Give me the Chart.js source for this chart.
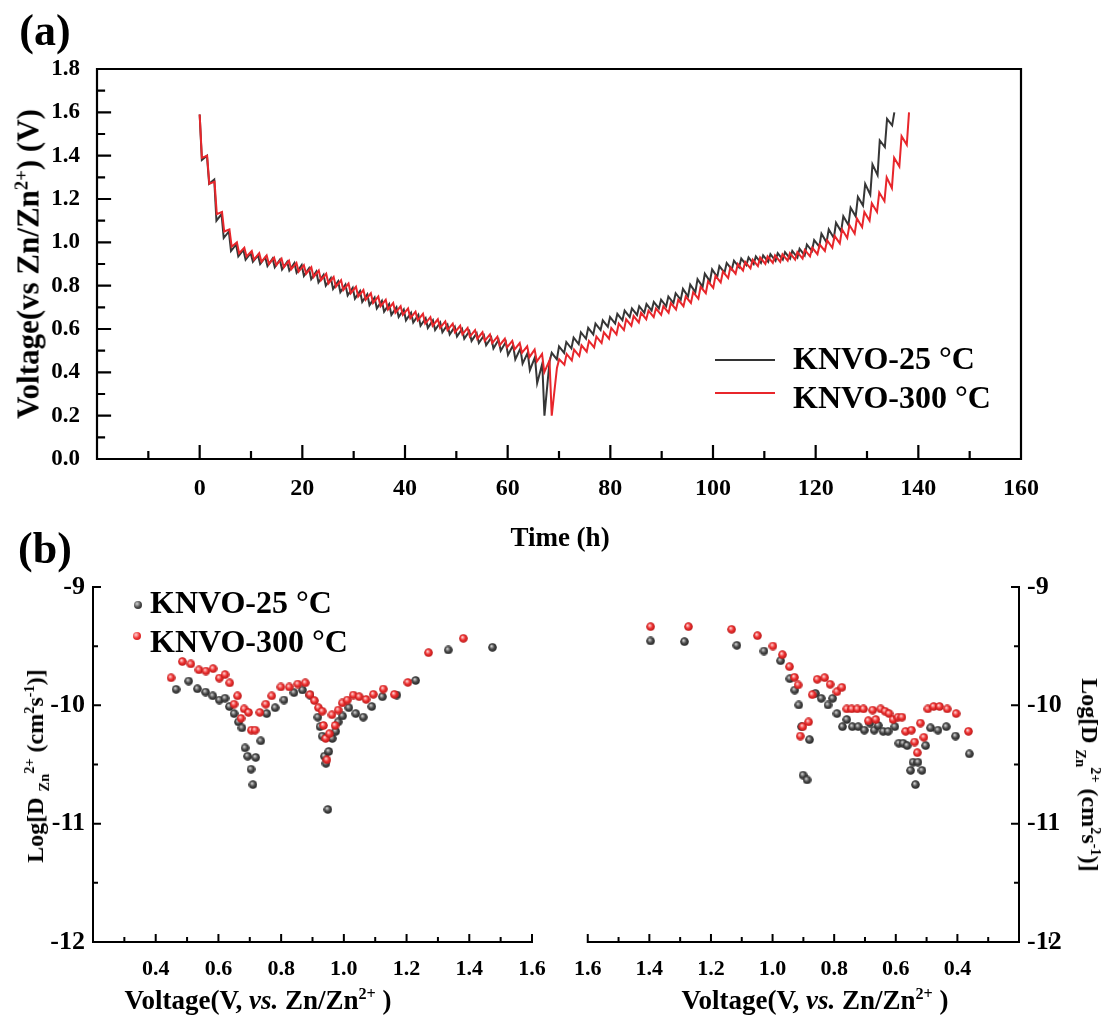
<!DOCTYPE html>
<html>
<head>
<meta charset="utf-8">
<script src="https://cdn.jsdelivr.net/npm/chart.js@4.4.1/dist/chart.umd.min.js"></script>
<style>
  body { margin: 0; background: #fff; }
  #page { position: relative; width: 1109px; height: 1017px; overflow: hidden; background: #fff; }
  canvas { position: absolute; }
  .t { position: absolute; white-space: nowrap; font-family: "Liberation Serif", "Times New Roman", serif;
       font-weight: bold; color: #000; line-height: 1; transform: translate(-50%, -50%); }
  .rot-l { transform: translate(-50%, -50%) rotate(-90deg); }
  .rot-r { transform: translate(-50%, -50%) rotate(90deg); }
  .t sup, .t sub { font-size: 0.6em; line-height: 0; }
  .leg { position: absolute; white-space: nowrap; font-family: "Liberation Serif", "Times New Roman", serif;
         font-weight: bold; font-size: 32px; line-height: 1; transform: translateY(-50%); }
  .legline { position: absolute; width: 60px; height: 0; }
  .ball { position: absolute; width: 8px; height: 8px; border-radius: 50%; transform: translate(-50%, -50%); }
</style>
</head>
<body>
<div id="page">
  <canvas id="gittChart" width="1109" height="560" style="left:0;top:0"></canvas>
  <canvas id="chargeChart" width="560" height="457" style="left:0;top:560px"></canvas>
  <canvas id="dischargeChart" width="549" height="457" style="left:560px;top:560px"></canvas>

  <div class="t" style="left:45px;top:31px;font-size:44px">(a)</div>
  <div class="t" style="left:45px;top:549px;font-size:44px">(b)</div>

  <div class="t" style="left:560px;top:537px;font-size:27px">Time (h)</div>
  <div class="t rot-l" style="left:28px;top:264px;font-size:31px">Voltage(vs Zn/Zn<sup>2+</sup>) (V)</div>

  <div class="legline" style="left:715px;top:359px;border-top:2px solid #333"></div>
  <div class="legline" style="left:715px;top:392px;border-top:2px solid #e8262b"></div>
  <div class="leg" style="left:793px;top:358px">KNVO-25 °C</div>
  <div class="leg" style="left:793px;top:397px">KNVO-300 °C</div>

  <div class="ball" style="left:138px;top:605px;background:radial-gradient(circle at 38% 35%, #d0d0d0 0, #4a4a4a 50%, #222 100%)"></div>
  <div class="ball" style="left:137px;top:636px;background:radial-gradient(circle at 38% 35%, #ffd0d0 0, #ee3030 50%, #b51818 100%)"></div>
  <div class="leg" style="left:150px;top:602px">KNVO-25 °C</div>
  <div class="leg" style="left:150px;top:641px">KNVO-300 °C</div>

  <div class="t" style="left:258px;top:1000px;font-size:27px">Voltage(V, <i>vs.</i> Zn/Zn<sup>2+</sup> )</div>
  <div class="t" style="left:815px;top:1000px;font-size:27px">Voltage(V, <i>vs.</i> Zn/Zn<sup>2+</sup> )</div>
  <div class="t rot-l" style="left:35px;top:766px;font-size:24px">Log[D <sub>Zn</sub><sup>2+</sup> (cm<sup>2</sup>s<sup>-1</sup>)]</div>
  <div class="t rot-r" style="left:1090px;top:775px;font-size:24px">Log[D <sub>Zn</sub><sup>2+</sup> (cm<sup>2</sup>s<sup>-1</sup>)]</div>
</div>

<script>
// ---- GITT profiles: voltage at the end of each pulse and after each rest ----
const startVoltage = 1.59;
const stepHours25 = 1.42;
const stepHours300 = 1.45;
const pulseFraction = 0.3;

const dis25Pulse = [1.38, 1.27, 1.10, 1.02, 0.96, 0.935, 0.92, 0.91, 0.90, 0.89, 0.885, 0.875, 0.87, 0.86, 0.845, 0.83,
  0.815, 0.80, 0.785, 0.77, 0.755, 0.74, 0.725, 0.71, 0.695, 0.68, 0.665, 0.655, 0.64, 0.63, 0.615, 0.605,
  0.595, 0.585, 0.575, 0.565, 0.555, 0.545, 0.535, 0.525, 0.51, 0.50, 0.48, 0.46, 0.44, 0.41, 0.35, 0.20];
const dis25Rest = [1.40, 1.29, 1.13, 1.05, 0.99, 0.965, 0.95, 0.94, 0.93, 0.925, 0.92, 0.91, 0.905, 0.895, 0.88, 0.865,
  0.85, 0.835, 0.82, 0.805, 0.79, 0.775, 0.76, 0.745, 0.73, 0.715, 0.70, 0.69, 0.675, 0.665, 0.65, 0.64,
  0.63, 0.62, 0.61, 0.60, 0.59, 0.58, 0.57, 0.56, 0.55, 0.54, 0.525, 0.51, 0.49, 0.47, 0.44, 0.45];
const chg25Pulse = [0.49, 0.52, 0.54, 0.56, 0.585, 0.605, 0.625, 0.64, 0.655, 0.67, 0.685, 0.695, 0.705, 0.715, 0.725, 0.735,
  0.75, 0.765, 0.785, 0.805, 0.83, 0.855, 0.875, 0.89, 0.905, 0.915, 0.925, 0.93, 0.935, 0.94, 0.945, 0.95,
  0.955, 0.96, 0.97, 0.99, 1.01, 1.04, 1.06, 1.09, 1.12, 1.16, 1.21, 1.27, 1.36, 1.47, 1.57, 1.60];
const chg25Rest = [0.46, 0.49, 0.51, 0.53, 0.555, 0.575, 0.595, 0.61, 0.625, 0.64, 0.655, 0.665, 0.675, 0.685, 0.695, 0.705,
  0.72, 0.735, 0.75, 0.77, 0.795, 0.82, 0.84, 0.86, 0.875, 0.885, 0.895, 0.90, 0.905, 0.91, 0.915, 0.92,
  0.925, 0.93, 0.94, 0.96, 0.98, 1.00, 1.02, 1.05, 1.08, 1.12, 1.17, 1.22, 1.31, 1.44, 1.54];

const dis300Pulse = [1.39, 1.27, 1.13, 1.05, 0.98, 0.95, 0.935, 0.92, 0.91, 0.90, 0.895, 0.885, 0.875, 0.865, 0.855, 0.84,
  0.825, 0.81, 0.795, 0.78, 0.765, 0.75, 0.735, 0.72, 0.705, 0.69, 0.675, 0.665, 0.65, 0.64, 0.625, 0.615,
  0.605, 0.595, 0.585, 0.575, 0.565, 0.555, 0.545, 0.535, 0.525, 0.515, 0.505, 0.49, 0.47, 0.45, 0.40, 0.20];
const dis300Rest = [1.40, 1.28, 1.14, 1.06, 1.00, 0.975, 0.96, 0.95, 0.94, 0.93, 0.925, 0.915, 0.905, 0.895, 0.885, 0.87,
  0.855, 0.84, 0.825, 0.81, 0.795, 0.78, 0.765, 0.75, 0.735, 0.72, 0.705, 0.695, 0.68, 0.67, 0.655, 0.645,
  0.635, 0.625, 0.615, 0.605, 0.595, 0.585, 0.575, 0.565, 0.555, 0.545, 0.535, 0.52, 0.505, 0.485, 0.455, 0.42];
const chg300Pulse = [0.46, 0.485, 0.505, 0.525, 0.545, 0.565, 0.585, 0.605, 0.625, 0.645, 0.66, 0.675, 0.685, 0.695, 0.705, 0.72,
  0.735, 0.75, 0.77, 0.795, 0.82, 0.845, 0.865, 0.885, 0.90, 0.91, 0.92, 0.93, 0.935, 0.94, 0.945, 0.95,
  0.955, 0.965, 0.975, 0.99, 1.01, 1.03, 1.06, 1.08, 1.11, 1.14, 1.18, 1.23, 1.30, 1.39, 1.49, 1.60];
const chg300Rest = [0.435, 0.455, 0.475, 0.495, 0.515, 0.535, 0.555, 0.575, 0.595, 0.615, 0.63, 0.645, 0.655, 0.665, 0.675, 0.69,
  0.705, 0.72, 0.74, 0.765, 0.79, 0.815, 0.835, 0.855, 0.87, 0.88, 0.89, 0.90, 0.905, 0.91, 0.915, 0.92,
  0.925, 0.935, 0.945, 0.96, 0.975, 0.995, 1.02, 1.04, 1.07, 1.10, 1.14, 1.19, 1.25, 1.35, 1.45];

// ---- diffusion coefficients from GITT, log10(D) vs voltage ----
const chargeV25 = [0.465, 0.505, 0.533, 0.559, 0.582, 0.603, 0.621, 0.635, 0.65, 0.664, 0.675, 0.685, 0.693, 0.704, 0.71,
  0.719, 0.735, 0.754, 0.781, 0.809, 0.841, 0.868, 0.892, 0.917, 0.924, 0.931, 0.938, 0.943, 0.949, 0.952, 0.963,
  0.974, 0.982, 0.996, 1.016, 1.038, 1.062, 1.089, 1.123, 1.169, 1.229, 1.333, 1.474];
const chargeD25 = [-9.865, -9.795, -9.86, -9.888, -9.92, -9.955, -9.94, -10.01, -10.07, -10.14, -10.19, -10.36, -10.43, -10.54, -10.67,
  -10.44, -10.30, -10.07, -10.02, -9.955, -9.893, -9.87, -9.913, -10.10, -10.18, -10.26, -10.43, -10.49, -10.88, -10.39, -10.28,
  -10.22, -10.14, -10.09, -10.02, -10.07, -10.10, -10.01, -9.927, -9.913, -9.79, -9.532, -9.51];
const chargeV300 = [0.449, 0.485, 0.512, 0.538, 0.56, 0.583, 0.603, 0.621, 0.636, 0.65, 0.661, 0.672, 0.682, 0.696, 0.705,
  0.717, 0.732, 0.751, 0.77, 0.799, 0.826, 0.853, 0.877, 0.892, 0.906, 0.919, 0.931, 0.935, 0.942, 0.946, 0.954,
  0.962, 0.972, 0.982, 0.995, 1.011, 1.03, 1.049, 1.071, 1.094, 1.126, 1.161, 1.204, 1.27, 1.381];
const chargeD300 = [-9.767, -9.63, -9.65, -9.70, -9.71, -9.69, -9.77, -9.74, -9.81, -9.99, -9.92, -10.11, -10.03, -10.06, -10.21,
  -10.21, -10.06, -9.99, -9.92, -9.845, -9.845, -9.82, -9.81, -9.91, -9.96, -10.02, -10.05, -10.17, -10.28, -10.46, -10.24,
  -10.08, -10.17, -10.04, -9.98, -9.955, -9.913, -9.927, -9.95, -9.907, -9.862, -9.907, -9.806, -9.555, -9.434];

const dischargeV25 = [1.396, 1.286, 1.116, 1.028, 0.974, 0.944, 0.928, 0.915, 0.906, 0.901, 0.888, 0.88, 0.861, 0.842, 0.82,
  0.805, 0.791, 0.773, 0.759, 0.741, 0.722, 0.702, 0.684, 0.67, 0.657, 0.641, 0.625, 0.603, 0.59, 0.576, 0.563,
  0.552, 0.544, 0.536, 0.528, 0.515, 0.503, 0.487, 0.463, 0.436, 0.406, 0.361];
const dischargeD25 = [-9.456, -9.462, -9.493, -9.541, -9.623, -9.775, -9.871, -9.997, -10.18, -10.59, -10.63, -10.29, -9.899, -9.941, -9.997,
  -9.941, -10.07, -10.18, -10.12, -10.18, -10.18, -10.21, -10.15, -10.21, -10.17, -10.22, -10.22, -10.18, -10.32, -10.32, -10.34,
  -10.55, -10.48, -10.67, -10.48, -10.55, -10.34, -10.19, -10.21, -10.18, -10.26, -10.41];
const dischargeV300 = [1.396, 1.273, 1.133, 1.049, 0.999, 0.968, 0.945, 0.929, 0.917, 0.910, 0.902, 0.883, 0.871, 0.855, 0.831,
  0.813, 0.791, 0.775, 0.759, 0.743, 0.725, 0.705, 0.689, 0.675, 0.665, 0.649, 0.635, 0.622, 0.609, 0.593, 0.58,
  0.568, 0.549, 0.539, 0.530, 0.52, 0.509, 0.496, 0.477, 0.458, 0.433, 0.404, 0.364];
const dischargeD300 = [-9.335, -9.335, -9.358, -9.411, -9.499, -9.572, -9.673, -9.763, -9.828, -10.26, -10.18, -10.14, -9.91, -9.78, -9.766,
  -9.822, -9.885, -9.848, -10.03, -10.03, -10.03, -10.03, -10.13, -10.04, -10.12, -10.03, -10.05, -10.07, -10.12, -10.10, -10.10,
  -10.22, -10.21, -10.31, -10.40, -10.15, -10.27, -10.03, -10.01, -10.01, -10.03, -10.07, -10.22];

const black = '#363636';
const red = '#e8262b';
const serif = 'Liberation Serif';

Chart.defaults.font.family = serif;
Chart.defaults.color = '#000';
Chart.defaults.animation = false;

// pulse then rest, step after step; the last charge pulse ends the curve
function gittPoints(step, disPulse, disRest, chgPulse, chgRest) {
  const pts = [{ x: 0, y: startVoltage }];
  let t = 0;
  disPulse.forEach((v, i) => {
    pts.push({ x: t + step * pulseFraction, y: v });
    pts.push({ x: t + step, y: disRest[i] });
    t += step;
  });
  chgPulse.forEach((v, i) => {
    pts.push({ x: t + step * pulseFraction, y: v });
    if (i < chgRest.length) pts.push({ x: t + step, y: chgRest[i] });
    t += step;
  });
  return pts;
}

function zip(xs, ys) {
  return xs.map((x, i) => ({ x: x, y: ys[i] }));
}

// shaded ball used as point marker
function ball(light, mid, dark, d) {
  const c = document.createElement('canvas');
  c.width = c.height = d;
  const g = c.getContext('2d');
  const grad = g.createRadialGradient(d * 0.38, d * 0.35, d * 0.04, d / 2, d / 2, d / 2);
  grad.addColorStop(0, light);
  grad.addColorStop(0.5, mid);
  grad.addColorStop(1, dark);
  g.fillStyle = grad;
  g.beginPath();
  g.arc(d / 2, d / 2, d / 2 - 0.2, 0, Math.PI * 2);
  g.fill();
  return c;
}
const blackBall = ball('#d0d0d0', '#4a4a4a', '#222', 9);
const redBall = ball('#ffd0d0', '#ee3030', '#b51818', 9);

// axis lines with inward major/minor ticks
const axisFrame = {
  id: 'axisFrame',
  afterDatasetsDraw(chart, args, o) {
    const { ctx, chartArea: a } = chart;
    const xs = chart.scales.x, ys = chart.scales.y;
    const right = o.ySide === 'right';
    const yEdge = right ? a.right : a.left;
    const dir = right ? -1 : 1;
    ctx.save();
    ctx.strokeStyle = '#000';
    ctx.lineWidth = o.lineWidth;
    ctx.lineCap = 'square';
    ctx.beginPath();
    ctx.moveTo(a.left, a.bottom); ctx.lineTo(a.right, a.bottom);
    ctx.moveTo(yEdge, a.top); ctx.lineTo(yEdge, a.bottom);
    if (o.box) {
      ctx.moveTo(a.left, a.top); ctx.lineTo(a.right, a.top); ctx.lineTo(a.right, a.bottom);
    }
    const xv = xs.ticks.map(t => t.value);
    const xStep = xv[1] - xv[0];
    xv.forEach(v => {
      const p = xs.getPixelForValue(v);
      ctx.moveTo(p, a.bottom); ctx.lineTo(p, a.bottom - o.major);
      if (v + xStep / 2 < xs.max) {
        const q = xs.getPixelForValue(v + xStep / 2);
        ctx.moveTo(q, a.bottom); ctx.lineTo(q, a.bottom - o.minor);
      }
    });
    const yv = ys.ticks.map(t => t.value);
    const yStep = yv[1] - yv[0];
    yv.forEach(v => {
      const p = ys.getPixelForValue(v);
      ctx.moveTo(yEdge, p); ctx.lineTo(yEdge + dir * o.major, p);
      if (v + yStep / 2 < ys.max) {
        const q = ys.getPixelForValue(v + yStep / 2);
        ctx.moveTo(yEdge, q); ctx.lineTo(yEdge + dir * o.minor, q);
      }
    });
    ctx.stroke();
    ctx.restore();
  }
};

const noGrid = { display: false, drawTicks: false };
const noBorder = { display: false };

// (a) GITT voltage profiles
new Chart(document.getElementById('gittChart'), {
  type: 'line',
  data: {
    datasets: [
      { label: 'KNVO-25 °C', data: gittPoints(stepHours25, dis25Pulse, dis25Rest, chg25Pulse, chg25Rest),
        borderColor: black, borderWidth: 2, pointRadius: 0, tension: 0, order: 1 },
      { label: 'KNVO-300 °C', data: gittPoints(stepHours300, dis300Pulse, dis300Rest, chg300Pulse, chg300Rest),
        borderColor: red, borderWidth: 2, pointRadius: 0, tension: 0, order: 0 }
    ]
  },
  options: {
    responsive: false,
    layout: { padding: { left: 0, top: 69, right: 88, bottom: 0 } },
    plugins: { legend: { display: false }, tooltip: { enabled: false },
      axisFrame: { box: true, ySide: 'left', lineWidth: 2.2, major: 13, minor: 7 } },
    scales: {
      x: { type: 'linear', min: -20, max: 160, grid: noGrid, border: noBorder,
        ticks: { stepSize: 20, padding: 15, font: { size: 24, weight: 'bold' }, callback: v => (v < 0 ? '' : v) },
        afterFit: s => { s.height = 101; } },
      y: { min: 0, max: 1.8, grid: noGrid, border: noBorder,
        ticks: { stepSize: 0.2, padding: 17, font: { size: 23, weight: 'bold' }, callback: v => v.toFixed(1) },
        afterFit: s => { s.width = 97; } }
    }
  },
  plugins: [axisFrame]
});

function diffusionOptions(side, reverse, padding) {
  return {
    responsive: false,
    layout: { padding: padding },
    plugins: { legend: { display: false }, tooltip: { enabled: false },
      axisFrame: { box: false, ySide: side, lineWidth: 2, major: 7, minor: 4 } },
    scales: {
      x: { type: 'linear', min: 0.2, max: 1.6, reverse: reverse, grid: noGrid, border: noBorder,
        ticks: { stepSize: 0.2, padding: 14, font: { size: 22, weight: 'bold' },
          callback: v => (v < 0.3 ? '' : v.toFixed(1)) },
        afterFit: s => { s.height = 75; } },
      y: { position: side, min: -12, max: -9, grid: noGrid, border: noBorder,
        ticks: { stepSize: 1, padding: 8, font: { size: 26, weight: 'bold' } },
        afterFit: s => { s.width = side === 'right' ? 90 : 93; } }
    }
  };
}

// (b) charge branch, voltage increasing
new Chart(document.getElementById('chargeChart'), {
  type: 'scatter',
  data: {
    datasets: [
      { label: 'KNVO-25 °C', data: zip(chargeV25, chargeD25), pointStyle: blackBall, order: 1 },
      { label: 'KNVO-300 °C', data: zip(chargeV300, chargeD300), pointStyle: redBall, order: 0 }
    ]
  },
  options: diffusionOptions('left', false, { left: 0, top: 27, right: 28, bottom: 0 }),
  plugins: [axisFrame]
});

// (b) discharge branch, voltage axis reversed
new Chart(document.getElementById('dischargeChart'), {
  type: 'scatter',
  data: {
    datasets: [
      { label: 'KNVO-25 °C', data: zip(dischargeV25, dischargeD25), pointStyle: blackBall, order: 1 },
      { label: 'KNVO-300 °C', data: zip(dischargeV300, dischargeD300), pointStyle: redBall, order: 0 }
    ]
  },
  options: diffusionOptions('right', true, { left: 26, top: 27, right: 0, bottom: 0 }),
  plugins: [axisFrame]
});
</script>
</body>
</html>
